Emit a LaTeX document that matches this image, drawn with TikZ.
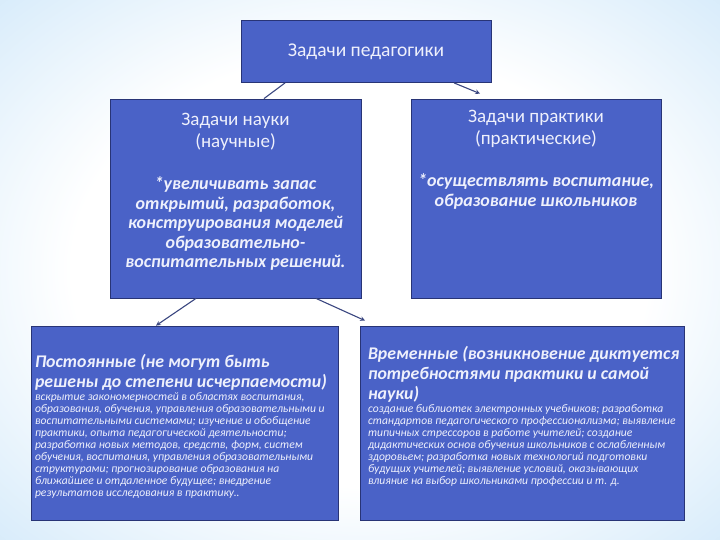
\documentclass[tikz,border=0pt]{standalone}
\usepackage{fontspec}
\setmainfont{Carlito}
\usepackage{xcolor}
\usetikzlibrary{shapes,arrows,positioning,calc}
\definecolor{boxfill}{RGB}{74,98,199}
\definecolor{boxline}{RGB}{40,52,118}
\definecolor{boxtext}{RGB}{238,240,252}
\definecolor{arrowcol}{RGB}{58,70,128}
\definecolor{bgmid}{RGB}{180,218,246}
\definecolor{bgouter}{RGB}{118,182,234}
\pgfdeclareradialshading{bgshade}{\pgfpoint{0bp}{0bp}}{color(0bp)=(white); color(20bp)=(white); color(50bp)=(bgmid); color(72bp)=(bgouter)}
\newcommand{\bigfont}{\fontsize{19}{22}\selectfont}
\newcommand{\accfont}{\fontsize{18}{19.5}\selectfont\bfseries\itshape}
\newcommand{\headfont}{\fontsize{17.8}{20}\selectfont\bfseries\itshape}
\newcommand{\smallfont}{\fontsize{11.6}{12}\selectfont\itshape}

\begin{document}
\begin{tikzpicture}[x=1pt, y=1pt, >=stealth]
        % Styles
        \tikzstyle{box} = [rectangle, draw=boxline, fill=boxfill, line width=0.8pt, inner sep=0pt, text=boxtext]
        \tikzstyle{line} = [draw=arrowcol, line width=1.1pt]

        % Background
        \useasboundingbox (0,0) rectangle (720,-540);
        \shade[shading=bgshade] (0,0) rectangle (720,-540);

        % Nodes
        \node [box, minimum width=250pt, minimum height=62pt, font=\fontsize{19.5}{22}\selectfont] (ped) at (366,-51.5) {Задачи педагогики};
        \node [box, below of=ped, node distance=147pt, xshift=-130.5pt] (nauka) {\parbox[c][199pt][t]{251pt}{\vspace*{14pt}\centering
            {\bigfont Задачи науки\\(научные)\par}
            \vspace{23pt}
            {\accfont *увеличивать запас\\открытий, разработок,\\конструирования моделей\\образовательно-\\воспитательных решений.\par}}};
        \node [box, right of=nauka, node distance=300.5pt] (praktika) {\parbox[c][199pt][t]{250pt}{\vspace*{11pt}\centering
            {\bigfont Задачи практики\\(практические)\par}
            \vspace{23pt}
            {\accfont *осуществлять воспитание,\\образование школьников\par}}};
        \node [box, below of=nauka, node distance=224.5pt, xshift=-51pt] (post) {\parbox[c][194pt][t]{307pt}{\vspace*{28pt}\raggedright\leftskip=4pt
            {\headfont Постоянные (не могут быть\\решены до степени исчерпаемости)\par}
            \vspace{1.5pt}
            {\smallfont вскрытие закономерностей в областях воспитания,\\образования, обучения, управления образовательными и\\воспитательными системами; изучение и обобщение\\практики, опыта педагогической деятельности;\\разработка новых методов, средств, форм, систем\\обучения, воспитания, управления образовательными\\структурами; прогнозирование образования на\\ближайшее и отдаленное будущее; внедрение\\результатов исследования в практику..\par}}};
        \node [box, right of=post, node distance=337.5pt] (vrem) {\parbox[c][194pt][t]{324pt}{\vspace*{20pt}\raggedright\leftskip=8pt
            {\headfont Временные (возникновение диктуется\\потребностями практики и самой\\науки)\par}
            \vspace{1pt}
            {\smallfont создание библиотек электронных учебников; разработка\\стандартов педагогического профессионализма; выявление\\типичных стрессоров в работе учителей; создание\\дидактических основ обучения школьников с ослабленным\\здоровьем; разработка новых технологий подготовки\\будущих учителей; выявление условий, оказывающих\\влияние на выбор школьниками профессии и т. д.\par}}};

        % Edges
        \path [line] ([xshift=-81pt]ped.south) -- ([xshift=28.5pt]nauka.north);
        \path [line, ->] ([xshift=88pt]ped.south) -- ([xshift=-56pt, yshift=5pt]praktika.north);
        \path [line, ->] ([xshift=-39.5pt]nauka.south) -- ([xshift=-28.5pt]post.north);
        \path [line, ->] ([xshift=80.5pt]nauka.south) -- ([xshift=-157pt, yshift=5pt]vrem.north);

    \end{tikzpicture}
\end{document}
